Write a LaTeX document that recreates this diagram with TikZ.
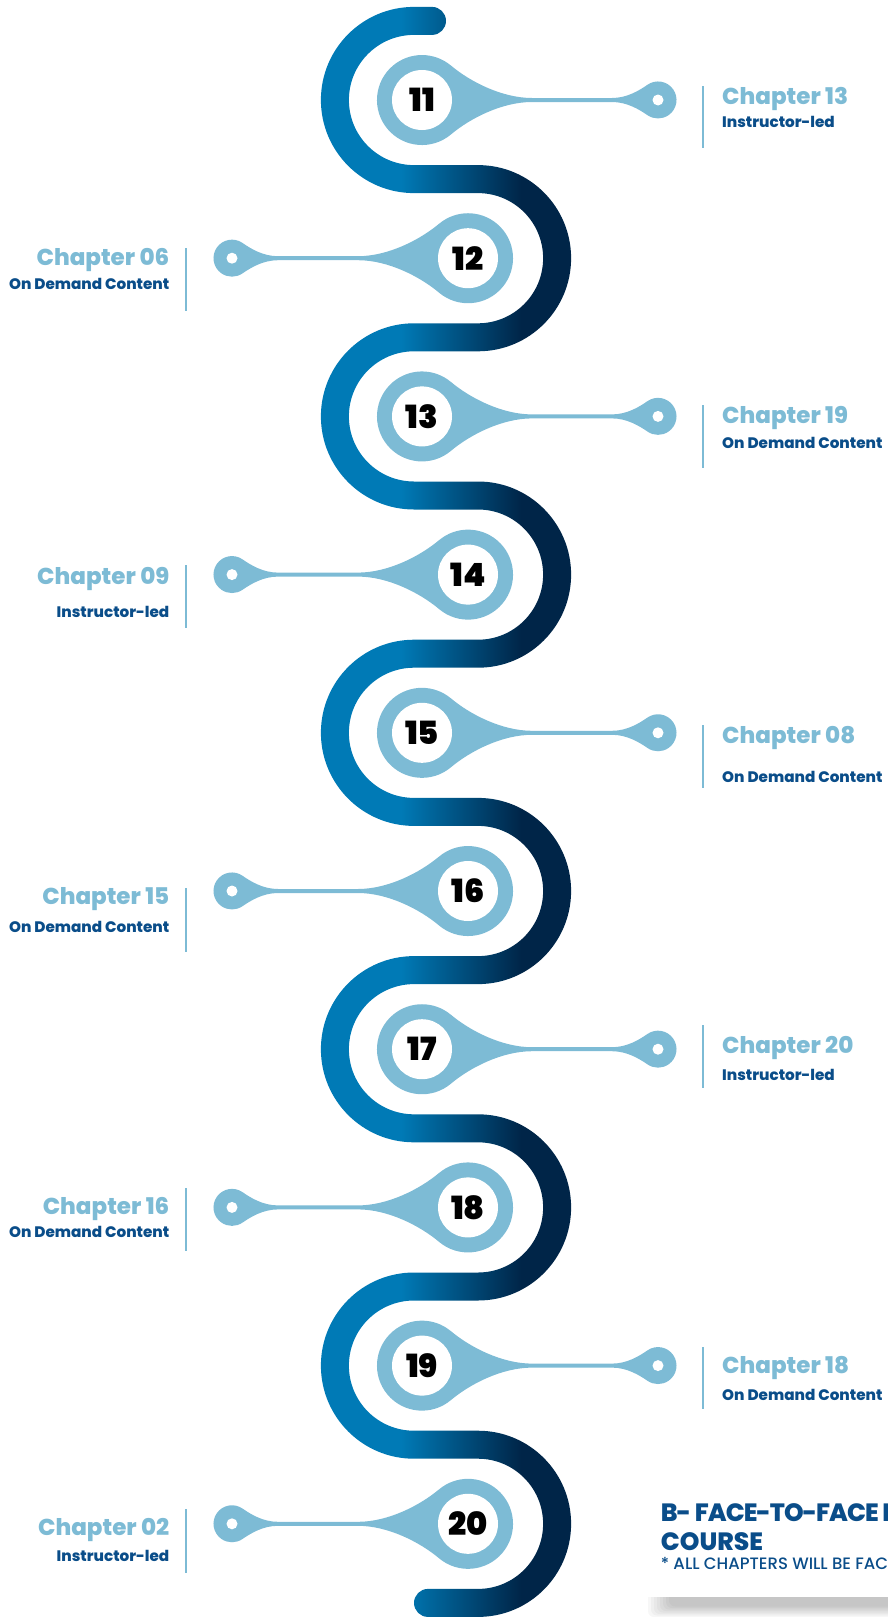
\documentclass[tikz,border=0pt]{standalone}
\usepackage{fontspec}
\setmainfont{Poppins}
\IfFontExistsTF{Poppins ExtraBold}{\newfontfamily\heavyfont{Poppins ExtraBold}}{\newfontfamily\heavyfont{Poppins}[FakeBold=1.2]}
\IfFontExistsTF{Poppins Black}{\newfontfamily\blackfont{Poppins Black}}{\newfontfamily\blackfont{Poppins}[FakeBold=2]}
\IfFontExistsTF{Poppins Medium}{\newfontfamily\notefont{Poppins Medium}}{\newfontfamily\notefont{Poppins}}
\usetikzlibrary{positioning}
\definecolor{pinblue}{RGB}{125,187,213}
\definecolor{deepblue}{RGB}{10,77,137}
\definecolor{serpA}{RGB}{0,122,182}
\definecolor{serpB}{RGB}{0,37,72}
\pgfdeclarehorizontalshading{serpgrad}{100bp}{color(0bp)=(serpA); color(41bp)=(serpA); color(65bp)=(serpB); color(100bp)=(serpB)}
\tikzset{
    numnode/.style = {circle, fill=white, minimum size=60pt, inner sep=0pt, font=\fontsize{32}{32}\blackfont},
    pindot/.style = {circle, fill=white, minimum size=11pt, inner sep=0pt},
    chaptxt/.style = {inner sep=0pt, text=pinblue, font=\fontsize{23}{23}\heavyfont},
    subtxt/.style = {inner sep=0pt, text=deepblue, font=\fontsize{15.2}{15.2}\heavyfont},
    sepline/.style = {draw=pinblue, line width=2.2pt},
    headtxt/.style = {inner sep=0pt, text=deepblue, font=\fontsize{25}{25}\heavyfont},
    notetxt/.style = {inner sep=0pt, text=deepblue, font=\fontsize{16.5}{16.5}\notefont},
    pin/.pic = {
      \fill[pinblue] (28.9,-34.5) .. controls (48,-18.4) and (80,-2) .. (110,-2) -- (190,-2)
        .. controls (205,-2) and (217.2,-9.5) .. (225.4,-15.2) arc[start angle=-125,end angle=125,radius=18.5]
        .. controls (217.2,9.5) and (205,2) .. (190,2) -- (110,2)
        .. controls (80,2) and (48,18.4) .. (28.9,34.5) arc[start angle=50,end angle=310,radius=45] -- cycle;
      \node[numnode] (-num) at (0,0) {#1};
      \node[pindot] (-dot) at (236,0) {};
    }
}

\begin{document}
\begin{tikzpicture}[x=1pt, y=-1pt]
  \useasboundingbox (0,0) rectangle (887,1617);
  % serpentine band
  \shade[shading=serpgrad] (432,6.9) -- (414,6.9)
    \foreach \k in {1,...,4}{ arc[start angle=-90,end angle=-270,radius=93.1] -- ++(64,0)
      arc[start angle=-90,end angle=90,radius=65.1] -- ++(-64,0) }
    arc[start angle=-90,end angle=-270,radius=93.1] -- ++(64,0)
    arc[start angle=-90,end angle=90,radius=65.1] -- ++(-50,0)
    arc[start angle=-90,end angle=-270,radius=14] -- ++(50,0)
    \foreach \k in {1,...,4}{ arc[start angle=90,end angle=-90,radius=93.1] -- ++(-64,0)
      arc[start angle=90,end angle=270,radius=65.1] -- ++(64,0) }
    arc[start angle=90,end angle=-90,radius=93.1] -- ++(-64,0)
    arc[start angle=90,end angle=270,radius=65.1] -- ++(18,0)
    arc[start angle=90,end angle=-90,radius=14] -- cycle;

  \pic (p11) at (422,100) {pin=11};
  \pic[xscale=-1] (p12) at (468,258.2) {pin=12};
  \pic (p13) at (422,416.4) {pin=13};
  \pic[xscale=-1] (p14) at (468,574.6) {pin=14};
  \pic (p15) at (422,732.8) {pin=15};
  \pic[xscale=-1] (p16) at (468,891) {pin=16};
  \pic (p17) at (422,1049.2) {pin=17};
  \pic[xscale=-1] (p18) at (468,1207.4) {pin=18};
  \pic (p19) at (422,1365.6) {pin=19};
  \pic[xscale=-1] (p20) at (468,1523.8) {pin=20};

  % right side
  \draw[sepline] (703,86) -- (703,148);
  \node[chaptxt, anchor=base west] (c13) at (722,104) {Chapter 13};
  \node[subtxt, anchor=base west] (s13) at (722,127) {Instructor-led};
  \draw[sepline] (703,405) -- (703,468);
  \node[chaptxt, anchor=base west] (c19) at (722,423) {Chapter 19};
  \node[subtxt, anchor=base west] (s19) at (722,448) {On Demand Content};
  \draw[sepline] (703,725) -- (703,788);
  \node[chaptxt, anchor=base west] (c08) at (722,743) {Chapter 08};
  \node[subtxt, anchor=base west] (s08) at (722,782) {On Demand Content};
  \draw[sepline] (703,1025) -- (703,1088);
  \node[chaptxt, anchor=base west] (c20) at (722,1053) {Chapter 20};
  \node[subtxt, anchor=base west] (s20) at (722,1080) {Instructor-led};
  \draw[sepline] (703,1347) -- (703,1409);
  \node[chaptxt, anchor=base west] (c18) at (722,1373) {Chapter 18};
  \node[subtxt, anchor=base west] (s18) at (722,1400) {On Demand Content};

  % left side
  \draw[sepline] (185.7,248) -- (185.7,311);
  \node[chaptxt, anchor=base east] (c06) at (169.5,265) {Chapter 06};
  \node[subtxt, anchor=base east] (s06) at (169.5,289) {On Demand Content};
  \draw[sepline] (185.7,565) -- (185.7,628);
  \node[chaptxt, anchor=base east] (c09) at (169.5,584) {Chapter 09};
  \node[subtxt, anchor=base east] (s09) at (169.5,617) {Instructor-led};
  \draw[sepline] (185.7,888) -- (185.7,952);
  \node[chaptxt, anchor=base east] (c15) at (169.5,904) {Chapter 15};
  \node[subtxt, anchor=base east] (s15) at (169.5,932) {On Demand Content};
  \draw[sepline] (185.7,1188) -- (185.7,1251);
  \node[chaptxt, anchor=base east] (c16) at (169.5,1214) {Chapter 16};
  \node[subtxt, anchor=base east] (s16) at (169.5,1237) {On Demand Content};
  \draw[sepline] (185.7,1509) -- (185.7,1573);
  \node[chaptxt, anchor=base east] (c02) at (169.5,1535) {Chapter 02};
  \node[subtxt, anchor=base east] (s02) at (169.5,1561) {Instructor-led};

  % course box
  \foreach \i in {0,...,7}
    \fill[black, opacity=0.03, rounded corners=6pt] (648+3*\i,1590) rectangle (900,1617-1.5*\i);
  \fill[white] (640,1440) rectangle (900,1597);
  \node[headtxt, anchor=base west] (head) at (660.7,1521.7) {\addfontfeature{LetterSpace=-4}B- FACE-TO-FACE I};
  \node[headtxt, anchor=base west] (course) at (660.7,1550.7) {COURSE};
  \node[notetxt, anchor=base west] (note) at (660.7,1569.3) {* ALL CHAPTERS WILL BE FAC};
\end{tikzpicture}
\end{document}
